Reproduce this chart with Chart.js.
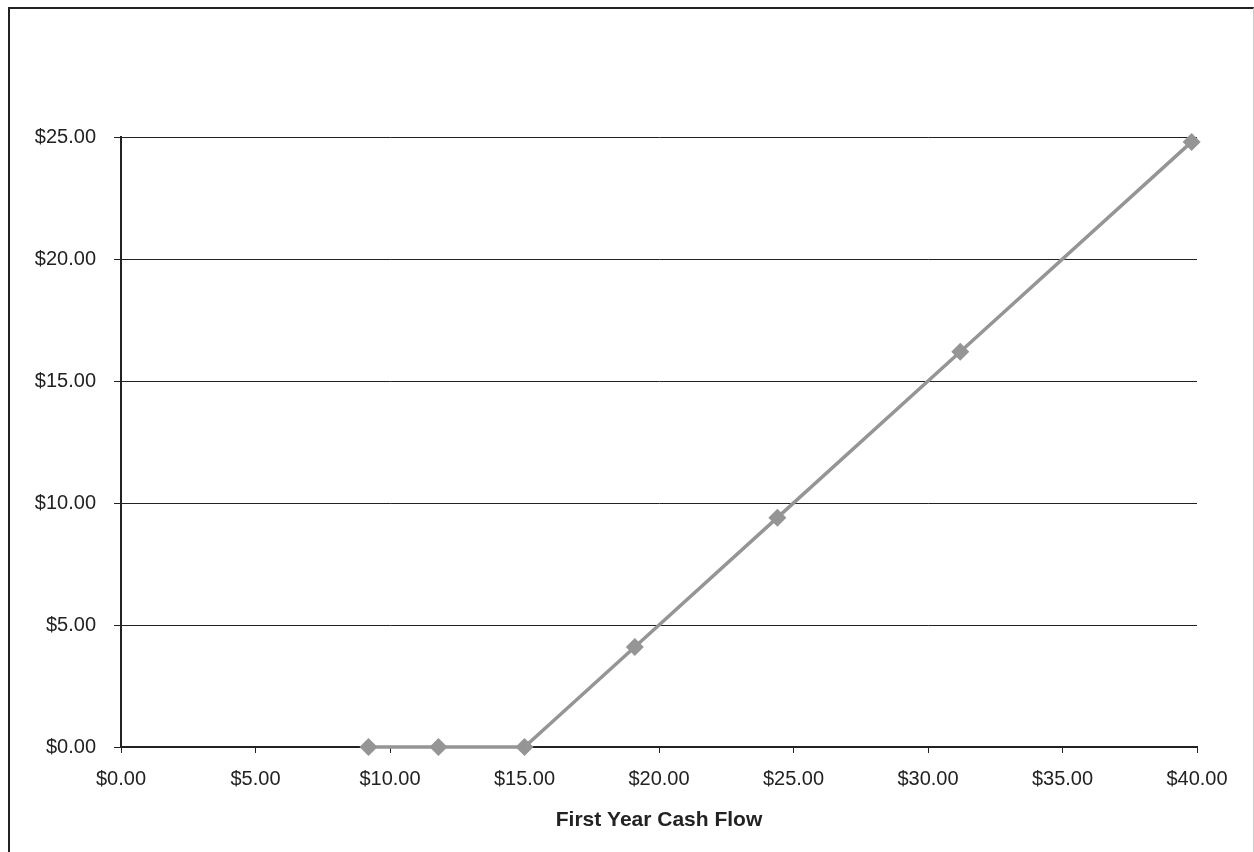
<!DOCTYPE html>
<html>
<head>
<meta charset="utf-8">
<script src="https://cdn.jsdelivr.net/npm/chart.js@4"></script>
<style>
    html, body { margin: 0; padding: 0; background: #ffffff; }
    #wrap { position: relative; width: 1254px; height: 852px; }
    #frame {
        position: absolute; left: 8px; top: 7px; width: 1243px; height: 860px;
        border-left: 2px solid #222; border-top: 2px solid #222; border-right: 1px solid #ccc;
    }
    canvas { position: absolute; left: 0; top: 0; }
</style>
</head>
<body>
<div id="wrap">
    <div id="frame"></div>
    <canvas id="payoffChart" width="1254" height="852"></canvas>
</div>
<script>
// Data
const cashFlow = [9.2, 11.8, 15.0, 19.1, 24.4, 31.2, 39.8];
const payoff = [0, 0, 0, 4.1, 9.4, 16.2, 24.8];
const xTicks = [0, 5, 10, 15, 20, 25, 30, 35, 40];
const yTicks = [0, 5, 10, 15, 20, 25];
const xTitle = 'First Year Cash Flow';

const colors = {
    line: '#959595',
    axis: '#222222',
    text: '#222222'
};

const money = v => '$' + Number(v).toFixed(2);

Chart.defaults.font.family = '"Liberation Sans", Arial, sans-serif';
Chart.defaults.font.size = 20;
Chart.defaults.color = colors.text;

const ctx = document.getElementById('payoffChart');

new Chart(ctx, {
    type: 'scatter',
    data: {
        datasets: [{
            data: cashFlow.map((x, i) => ({ x: x, y: payoff[i] })),
            showLine: true,
            clip: false,
            borderColor: colors.line,
            backgroundColor: colors.line,
            borderWidth: 3.5,
            pointStyle: 'rectRot',
            pointRadius: 9,
            pointBorderWidth: 0
        }]
    },
    options: {
        responsive: false,
        animation: false,
        layout: {
            padding: { left: 0, right: 57, top: 137, bottom: 15 }
        },
        plugins: {
            legend: { display: false },
            tooltip: { enabled: false }
        },
        scales: {
            x: {
                type: 'linear',
                min: xTicks[0],
                max: xTicks[xTicks.length - 1],
                afterBuildTicks: scale => { scale.ticks = xTicks.map(v => ({ value: v })); },
                afterFit: scale => { scale.height = 90; },
                border: { display: true, color: colors.axis, width: 2 },
                grid: {
                    drawOnChartArea: false,
                    drawTicks: true,
                    tickLength: 6,
                    color: colors.axis
                },
                ticks: {
                    padding: 14,
                    maxRotation: 0,
                    callback: money
                },
                title: {
                    display: true,
                    text: xTitle,
                    font: { weight: 'bold', size: 21 },
                    padding: { top: 4, bottom: 4 }
                }
            },
            y: {
                type: 'linear',
                min: yTicks[0],
                max: yTicks[yTicks.length - 1],
                afterBuildTicks: scale => { scale.ticks = yTicks.map(v => ({ value: v })); },
                afterFit: scale => { scale.width = 121; },
                border: { display: true, color: colors.axis, width: 2 },
                grid: {
                    color: colors.axis,
                    lineWidth: 1,
                    drawTicks: true,
                    tickLength: 7
                },
                ticks: {
                    padding: 18,
                    callback: money
                }
            }
        }
    }
});
</script>
</body>
</html>
